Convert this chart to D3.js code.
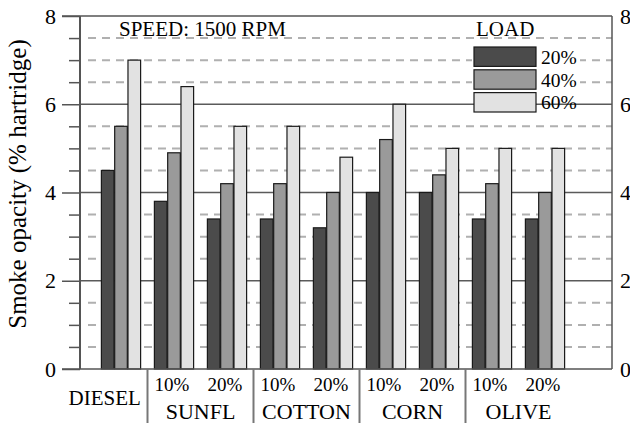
<!DOCTYPE html>
<html>
<head>
<meta charset="utf-8">
<script src="https://cdn.jsdelivr.net/npm/d3@7"></script>
<style>
  html, body { margin: 0; padding: 0; background: #fff; }
  svg { display: block; }
  svg text { font-family: "Liberation Serif", "Times New Roman", serif !important; fill: #000; }
</style>
</head>
<body>
<svg id="chart" width="630" height="423"></svg>
<script>
// Smoke opacity per fuel blend at three engine loads
const groupKeys = ["DIESEL", "SUNFL10", "SUNFL20", "COTTON10", "COTTON20", "CORN10", "CORN20", "OLIVE10", "OLIVE20"];
const blendLabels = ["", "10%", "20%", "10%", "20%", "10%", "20%", "10%", "20%"];
const fuels = ["SUNFL", "COTTON", "CORN", "OLIVE"];
const loads = ["20%", "40%", "60%"];
const load20 = [4.5, 3.8, 3.4, 3.4, 3.2, 4.0, 4.0, 3.4, 3.4];
const load40 = [5.5, 4.9, 4.2, 4.2, 4.0, 5.2, 4.4, 4.2, 4.0];
const load60 = [7.0, 6.4, 5.5, 5.5, 4.8, 6.0, 5.0, 5.0, 5.0];
const yTicks = [0, 2, 4, 6, 8];
const loadColors = ["#4b4b4b", "#9a9a9a", "#e2e2e2"];

const seriesValues = [load20, load40, load60];
const rows = groupKeys.map((g, i) => ({ key: g, values: loads.map((l, j) => ({ load: l, value: seriesValues[j][i] })) }));

const svg = d3.select("#chart");
const plotL = 80, plotR = 612, plotT = 16, plotB = 369;

const y = d3.scaleLinear().domain([0, 8]).range([plotB, plotT]);
const x0 = d3.scaleBand().domain(groupKeys).range([94.5, 571.5]).paddingInner(0.26).paddingOuter(0.13);
const x1 = d3.scaleBand().domain(loads).range([0, x0.bandwidth()]).paddingInner(0.05);
const color = d3.scaleOrdinal().domain(loads).range(loadColors);

const minorTicks = d3.range(0.5, 8, 0.5).filter(v => v % 2 !== 0);
const majorInner = yTicks.filter(v => v > 0 && v < 8);

// dashed minor grid
svg.append("g").selectAll("line").data(minorTicks).join("line")
  .attr("x1", plotL + 8).attr("x2", plotR)
  .attr("y1", d => y(d)).attr("y2", d => y(d))
  .attr("stroke", "#b0b0b0").attr("stroke-width", 2).attr("stroke-dasharray", "8,6");

// solid major grid
svg.append("g").selectAll("line").data(majorInner).join("line")
  .attr("x1", plotL).attr("x2", plotR)
  .attr("y1", d => y(d)).attr("y2", d => y(d))
  .attr("stroke", "#5a5a5a").attr("stroke-width", 1.5);

// legend background
svg.append("rect").attr("x", 472).attr("y", 45).attr("width", 108).attr("height", 55).attr("fill", "#fff");

// left axis with major and minor ticks
const axisLeft = d3.axisLeft(y).tickValues(yTicks).tickSize(18).tickPadding(6).tickFormat(d3.format("d"));
const gL = svg.append("g").attr("transform", `translate(${plotL},0)`).call(axisLeft);
gL.select(".domain").remove();
gL.selectAll(".tick line").attr("stroke", "#555").attr("stroke-width", 1.5);
gL.selectAll(".tick text").attr("font-size", 22);
const axisMinor = d3.axisLeft(y).tickValues(minorTicks).tickSize(11).tickFormat("");
const gM = svg.append("g").attr("transform", `translate(${plotL},0)`).call(axisMinor);
gM.select(".domain").remove();
gM.selectAll(".tick line").attr("stroke", "#555").attr("stroke-width", 1.5);

// right tick labels
const axisRight = d3.axisRight(y).tickValues(yTicks).tickSize(0).tickPadding(8).tickFormat(d3.format("d"));
const gR = svg.append("g").attr("transform", `translate(${plotR},0)`).call(axisRight);
gR.select(".domain").remove();
gR.selectAll(".tick text").attr("font-size", 22);

// bars
const groupsSel = svg.append("g").selectAll("g").data(rows).join("g")
  .attr("transform", d => `translate(${x0(d.key)},0)`);
groupsSel.selectAll("rect").data(d => d.values).join("rect")
  .attr("x", d => x1(d.load)).attr("width", x1.bandwidth())
  .attr("y", d => y(d.value)).attr("height", d => y(0) - y(d.value))
  .attr("fill", d => color(d.load)).attr("stroke", "#1a1a1a").attr("stroke-width", 1.2);

// frame
svg.append("line").attr("x1", plotL - 18).attr("x2", plotR).attr("y1", plotT).attr("y2", plotT).attr("stroke", "#555").attr("stroke-width", 1.5);
svg.append("line").attr("x1", plotR).attr("x2", plotR).attr("y1", plotT).attr("y2", plotB).attr("stroke", "#555").attr("stroke-width", 1.5);
svg.append("line").attr("x1", plotL - 18).attr("x2", plotR).attr("y1", plotB).attr("y2", plotB).attr("stroke", "#555").attr("stroke-width", 1.5);
svg.append("line").attr("x1", plotL).attr("x2", plotL).attr("y1", plotT).attr("y2", plotB).attr("stroke", "#555").attr("stroke-width", 2);

// category separators below the axis
const step = x0.step();
const seps = [1, 3, 5, 7].map(i => x0(groupKeys[i]) + x0.bandwidth() / 2 - step / 2);
svg.append("g").selectAll("line").data(seps).join("line")
  .attr("x1", d => d).attr("x2", d => d).attr("y1", plotB).attr("y2", 423)
  .attr("stroke", "#777").attr("stroke-width", 2);

// blend labels
svg.append("g").selectAll("text").data(groupKeys.slice(1)).join("text")
  .attr("x", d => x0(d) + x0.bandwidth() / 2 - 2).attr("y", 391)
  .attr("text-anchor", "middle").attr("font-size", 19)
  .text((d, i) => blendLabels[i + 1]);

// fuel labels
svg.append("text").attr("x", (plotL - 18 + seps[0]) / 2).attr("y", 405)
  .attr("text-anchor", "middle").attr("font-size", 21).text("DIESEL");
svg.append("g").selectAll("text").data(fuels).join("text")
  .attr("x", (d, i) => (x0(groupKeys[1 + 2 * i]) + x0(groupKeys[2 + 2 * i]) + x0.bandwidth()) / 2)
  .attr("y", 419).attr("text-anchor", "middle").attr("font-size", 22)
  .text(d => d);

// y axis title
svg.append("text").attr("transform", `translate(26,184) rotate(-90)`)
  .attr("text-anchor", "middle").attr("font-size", 25)
  .text("Smoke opacity (% hartridge)");

// speed note
svg.append("text").attr("x", 119).attr("y", 36).attr("font-size", 21).text("SPEED: 1500 RPM");

// legend
svg.append("text").attr("x", 476).attr("y", 36).attr("font-size", 21).text("LOAD");
const ly = d3.scaleBand().domain(loads).range([47, 112]).paddingInner(0.15);
const leg = svg.append("g").selectAll("g").data(loads).join("g");
leg.append("rect").attr("x", 474).attr("width", 62)
  .attr("y", d => ly(d)).attr("height", ly.bandwidth())
  .attr("fill", d => color(d)).attr("stroke", "#1a1a1a").attr("stroke-width", 1.2);
leg.append("text").attr("x", 541).attr("y", d => ly(d) + ly.bandwidth() / 2 + 7)
  .attr("font-size", 19.5).text(d => d);
</script>
</body>
</html>
